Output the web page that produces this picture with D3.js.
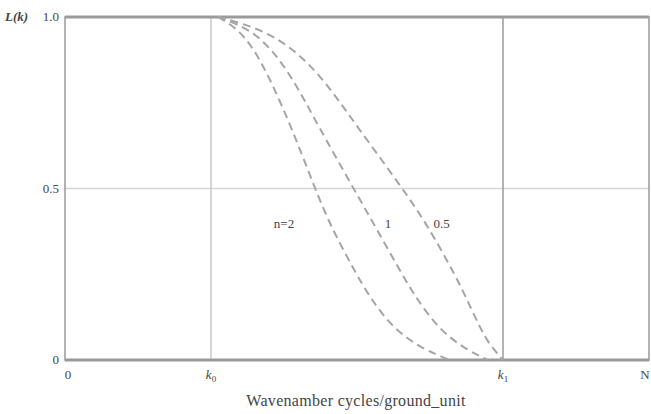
<!DOCTYPE html>
<html>
<head>
<meta charset="utf-8">
<script src="https://cdn.jsdelivr.net/npm/d3@7"></script>
<style>
  body { margin: 0; background: #fff; }
  text { font-family: "Liberation Serif", "DejaVu Serif", serif; fill: #444; }
</style>
</head>
<body>
<div id="chart"></div>
<script>
// curve data (x in units of N, L(k) value)
var curveNames = ["n=2", "1", "0.5"];
var xN2 = [0.262, 0.300, 0.336, 0.383, 0.428, 0.455, 0.494, 0.524, 0.563, 0.612, 0.659];
var yN2 = [1.0, 0.962, 0.875, 0.70, 0.50, 0.39, 0.265, 0.177, 0.09, 0.032, 0.0];
var xN1 = [0.262, 0.322, 0.370, 0.410, 0.428, 0.494, 0.531, 0.582, 0.603, 0.640, 0.685, 0.724];
var yN1 = [1.0, 0.962, 0.875, 0.759, 0.70, 0.50, 0.39, 0.235, 0.177, 0.09, 0.032, 0.0];
var xN05 = [0.262, 0.345, 0.415, 0.468, 0.492, 0.578, 0.622, 0.672, 0.688, 0.712, 0.726, 0.750];
var yN05 = [1.0, 0.962, 0.875, 0.759, 0.70, 0.50, 0.39, 0.235, 0.177, 0.09, 0.047, 0.0];

var xTicks = [0, 0.25, 0.75, 1];
var xTickLabels = ["0", "k0", "k1", "N"];
var yTicks = [0, 0.5, 1.0];
var yTickLabels = ["0", "0.5", "1.0"];
var labelPos = [[0.375, 0.385], [0.553, 0.385], [0.645, 0.385]];

var w = 651, h = 414;
var margin = {top: 17, right: 2, bottom: 54, left: 65};

var svg = d3.select("#chart").append("svg")
    .attr("width", w)
    .attr("height", h);

var x = d3.scaleLinear().domain([0, 1]).range([margin.left, w - margin.right]);
var y = d3.scaleLinear().domain([0, 1]).range([h - margin.bottom, margin.top]);

// grid lines
svg.append("line")
    .attr("x1", x(0)).attr("x2", x(1))
    .attr("y1", y(0.5)).attr("y2", y(0.5))
    .attr("stroke", "#d4d4d4").attr("stroke-width", 1.5);
svg.append("line")
    .attr("x1", x(0.25)).attr("x2", x(0.25))
    .attr("y1", y(0)).attr("y2", y(1))
    .attr("stroke", "#c8c8c8").attr("stroke-width", 1.5);
svg.append("line")
    .attr("x1", x(0.75)).attr("x2", x(0.75))
    .attr("y1", y(0)).attr("y2", y(1))
    .attr("stroke", "#9a9a9a").attr("stroke-width", 1.5);

// frame
svg.append("rect")
    .attr("x", x(0)).attr("y", y(1))
    .attr("width", x(1) - x(0)).attr("height", y(0) - y(1))
    .attr("fill", "none").attr("stroke", "#999").attr("stroke-width", 1.5);
[0, 1].forEach(function (v) {
  svg.append("line")
      .attr("x1", x(0)).attr("x2", x(1))
      .attr("y1", y(v)).attr("y2", y(v))
      .attr("stroke", "#9a9a9a").attr("stroke-width", 3);
});

// curves
var series = [d3.zip(xN2, yN2), d3.zip(xN1, yN1), d3.zip(xN05, yN05)];
var line = d3.line()
    .x(function (d) { return x(d[0]); })
    .y(function (d) { return y(d[1]); })
    .curve(d3.curveBasis);

svg.selectAll(".curve")
    .data(series)
    .enter()
    .append("path")
    .attr("class", "curve")
    .attr("d", line)
    .attr("fill", "none")
    .attr("stroke", "#a5a5a5")
    .attr("stroke-width", 2)
    .attr("stroke-dasharray", "8,5");

// curve labels
svg.selectAll(".clabel")
    .data(curveNames)
    .enter()
    .append("text")
    .attr("x", function (d, i) { return x(labelPos[i][0]); })
    .attr("y", function (d, i) { return y(labelPos[i][1]); })
    .attr("text-anchor", "middle")
    .style("font-size", "13px")
    .text(function (d) { return d; });

// y tick labels
svg.selectAll(".ylab")
    .data(yTicks)
    .enter()
    .append("text")
    .attr("x", x(0) - 6)
    .attr("y", function (d) { return y(d) + 4; })
    .attr("text-anchor", "end")
    .style("font-size", "13px")
    .text(function (d, i) { return yTickLabels[i]; });

// y axis label L(k)
svg.append("text")
    .attr("x", 5)
    .attr("y", y(1) + 4)
    .style("font-size", "13px")
    .style("font-style", "italic")
    .style("font-weight", "bold")
    .text("L(k)");

// x tick labels
var xl = svg.selectAll(".xlab")
    .data(xTicks)
    .enter()
    .append("text")
    .attr("x", function (d) { return x(d) + (d === 0 ? 3 : (d === 1 ? -4 : 0)); })
    .attr("y", y(0) + 19)
    .attr("text-anchor", "middle")
    .style("font-size", "13px");
xl.each(function (d, i) {
  var t = d3.select(this);
  var lab = xTickLabels[i];
  if (lab[0] === "k") {
    t.append("tspan").style("font-style", "italic").text("k");
    t.append("tspan").attr("dy", 3).style("font-size", "9px").text(lab.slice(1));
  } else {
    t.text(lab);
  }
});

// x axis title
svg.append("text")
    .attr("x", x(0.5) - 1)
    .attr("y", h - 8)
    .attr("text-anchor", "middle")
    .style("font-size", "16px")
    .style("letter-spacing", "0.3px")
    .text("Wavenamber cycles/ground_unit");
</script>
</body>
</html>
